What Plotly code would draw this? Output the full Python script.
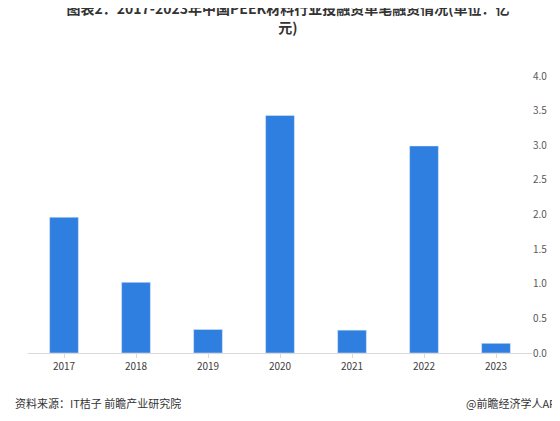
import plotly.graph_objects as go

years = ["2017", "2018", "2019", "2020", "2021", "2022", "2023"]
values = [1.96, 1.02, 0.34, 3.43, 0.33, 2.99, 0.14]
yticks = [0, 0.5, 1.0, 1.5, 2.0, 2.5, 3.0, 3.5, 4.0]

fig = go.Figure(go.Bar(x=years, y=values, marker_color="#2E7FE0", width=0.4))
font = "Microsoft YaHei, Noto Sans CJK SC, sans-serif"
fig.update_layout(
    width=560, height=421, plot_bgcolor="white", paper_bgcolor="white",
    margin=dict(l=20, r=36, t=68, b=76), showlegend=False,
    font=dict(family=font, color="#595959", size=11),
    title=dict(text="<b>图表2：2017-2023年中国PEEK材料行业投融资单笔融资情况(单位：亿<br>元)</b>",
               x=0.5, xanchor="center", y=0.985, yanchor="top",
               font=dict(size=14, color="#333333")),
    xaxis=dict(showline=True, linecolor="#D9D9D9", ticks="outside", tickcolor="#D9D9D9",
               ticklen=4, tickfont=dict(size=10, color="#404040")),
    yaxis=dict(side="right", range=[0, 4.0], tickvals=yticks,
               ticktext=[f"{v:.1f}" for v in yticks], showgrid=False, zeroline=False,
               tickfont=dict(size=10, color="#595959")),
    annotations=[
        dict(text="资料来源：IT桔子 前瞻产业研究院", xref="paper", yref="paper", x=-0.03, y=-0.18,
             xanchor="left", yanchor="middle", showarrow=False, font=dict(size=11, color="#333333")),
        dict(text="@前瞻经济学人APP", xref="paper", yref="paper", x=1.065, y=-0.18,
             xanchor="right", yanchor="middle", showarrow=False, font=dict(size=11, color="#333333")),
    ],
)
fig.write_html("out.html")
